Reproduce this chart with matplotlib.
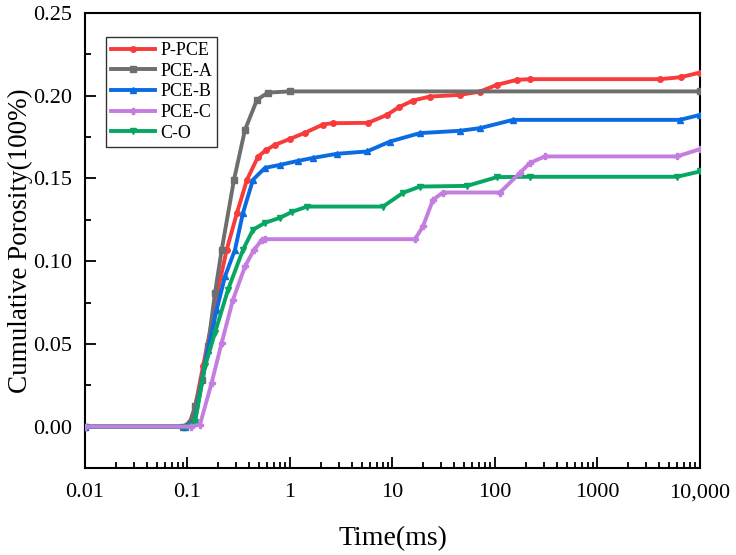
import matplotlib
matplotlib.use("Agg")
import matplotlib.pyplot as plt
from matplotlib.ticker import FixedLocator, FuncFormatter, LogLocator, MultipleLocator

plt.rcParams['font.family'] = ['Liberation Serif', 'DejaVu Serif']

# values (time in ms, porosity as fraction)
t_ppce = [0.01, 0.092, 0.1058, 0.1184, 0.1417, 0.1722, 0.1984, 0.2412, 0.304, 0.3806, 0.4874,
          0.58, 0.714, 1.0, 1.401, 2.099, 2.6, 5.768, 8.838, 11.5, 15.85, 23.23, 45.55, 71.4,
          104.6, 163.9, 219.6, 4072, 6500, 10000]
p_ppce = [0.0, 0.0, 0.003, 0.0115, 0.0364, 0.0628, 0.0827, 0.1069, 0.1292, 0.1492, 0.1631,
          0.1670, 0.1703, 0.1739, 0.1776, 0.1826, 0.1834, 0.1836, 0.1884, 0.1930, 0.1971, 0.1995,
          0.2005, 0.2025, 0.2066, 0.2096, 0.2100, 0.2100, 0.2112, 0.2140]

t_pcea = [0.01, 0.0904, 0.1058, 0.1184, 0.1375, 0.1585, 0.1855, 0.2157, 0.2842, 0.3639, 0.4764,
          0.61, 1.0, 10000]
p_pcea = [0.0, 0.0, 0.0018, 0.0123, 0.0284, 0.0485, 0.0809, 0.1069, 0.1492, 0.1794, 0.1975,
          0.2019, 0.2026, 0.2026]

t_pceb = [0.01, 0.095, 0.1184, 0.1585, 0.1927, 0.2323, 0.2907, 0.3479, 0.4355, 0.5703, 0.7987,
          1.197, 1.677, 2.873, 5.64, 9.454, 18.55, 45.55, 71.4, 149.9, 6381, 10000]
p_pceb = [0.0, 0.0, 0.004, 0.0465, 0.0707, 0.0908, 0.1069, 0.1292, 0.1492, 0.1564, 0.1582,
          0.1606, 0.1624, 0.1649, 0.1663, 0.1723, 0.1774, 0.1788, 0.1804, 0.1854, 0.1854, 0.1884]

t_pcec = [0.01, 0.108, 0.1324, 0.1722, 0.2157, 0.2779, 0.3639, 0.4455, 0.5331, 0.5703, 16.58,
          19.84, 24.84, 31.1, 111.9, 175.4, 219.6, 307.5, 5966, 10000]
p_pcec = [0.0, 0.0, 0.0012, 0.0266, 0.0507, 0.0767, 0.0968, 0.1069, 0.1129, 0.1133, 0.1133,
          0.121, 0.1371, 0.1415, 0.1415, 0.1534, 0.1594, 0.1633, 0.1633, 0.1677]

t_co = [0.01, 0.097, 0.1184, 0.1482, 0.1855, 0.2484, 0.3479, 0.4355, 0.5703, 0.7987, 1.046,
        1.466, 8.079, 12.66, 18.55, 53.31, 104.6, 219.6, 5966, 10000]
p_co = [0.0, 0.0, 0.003, 0.0364, 0.0568, 0.0827, 0.1069, 0.119, 0.1232, 0.1262, 0.1298,
        0.133, 0.133, 0.1413, 0.1451, 0.1455, 0.1508, 0.151, 0.151, 0.1542]

series = [
    ("P-PCE", t_ppce, p_ppce, "#F83C3C", "o"),
    ("PCE-A", t_pcea, p_pcea, "#6E6E6E", "s"),
    ("PCE-B", t_pceb, p_pceb, "#0B6BE3", "^"),
    ("PCE-C", t_pcec, p_pcec, "#C47DE0", "P"),
    ("C-O", t_co, p_co, "#07A662", "v"),
]
zorders = {"PCE-C": 6}

fig = plt.figure(figsize=(7.36, 5.55), dpi=100)
ax = fig.add_axes([0.1155, 0.1568, 0.8355, 0.8198])

for name, t, p, col, mk in series:
    ax.plot(t, p, color=col, lw=2.8, marker=mk, ms=4, label=name,
            zorder=zorders.get(name, 3))

ax.set_xscale("log")
ax.set_xlim(0.01, 10000)
ax.set_ylim(-0.025, 0.25)

ax.xaxis.set_major_locator(FixedLocator([0.01, 0.1, 1, 10, 100, 1000, 10000]))
ax.xaxis.set_minor_locator(LogLocator(base=10, subs=range(2, 10), numticks=20))
xlabels = {0.01: "0.01", 0.1: "0.1", 1: "1", 10: "10", 100: "100", 1000: "1000", 10000: "10,000"}
ax.xaxis.set_major_formatter(FuncFormatter(lambda v, pos: xlabels.get(round(v, 2), "")))
ax.yaxis.set_major_locator(MultipleLocator(0.05))
ax.yaxis.set_minor_locator(MultipleLocator(0.025))
ax.yaxis.set_major_formatter(FuncFormatter(lambda v, pos: f"{v:.2f}"))

ax.tick_params(which="both", direction="in", top=False, right=False, width=1.3, labelsize=16)
ax.tick_params(which="major", length=8)
ax.tick_params(which="minor", length=4)
ax.tick_params(axis="x", pad=11)
ax.tick_params(axis="y", pad=9)
for s in ax.spines.values():
    s.set_linewidth(1.5)

ax.set_ylabel("Cumulative Porosity(100%)", fontsize=19.5, labelpad=0.5)
ax.set_xlabel("Time(ms)", fontsize=20, labelpad=17)

leg = ax.legend(loc="upper left", bbox_to_anchor=(0.034, 0.948), fontsize=13, frameon=True,
                fancybox=False, edgecolor="#333333", framealpha=1, borderpad=0.3,
                labelspacing=0.2, handlelength=2.4, handletextpad=0.3, borderaxespad=0)
leg.get_frame().set_linewidth(1.0)

fig.savefig("out.png", dpi=100)
